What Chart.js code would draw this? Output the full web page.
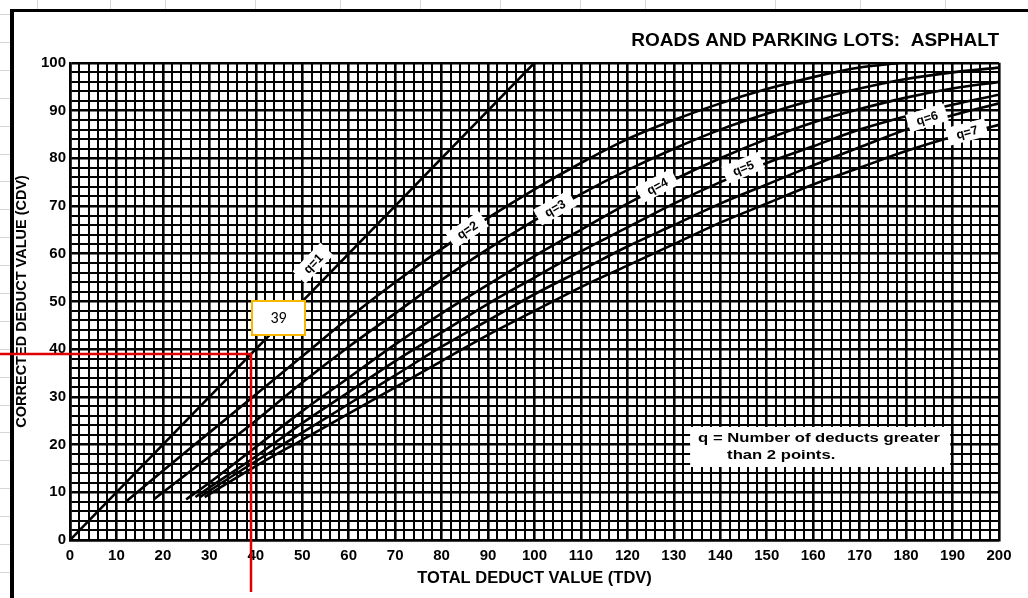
<!DOCTYPE html>
<html>
<head>
<meta charset="utf-8">
<script src="https://cdn.jsdelivr.net/npm/chart.js@4/dist/chart.umd.min.js"></script>
<style>
  html, body { margin: 0; padding: 0; background: #fff; }
  #wrap { width: 1028px; height: 598px; position: relative; }
</style>
</head>
<body>
<div id="wrap"><canvas id="canvas" width="1028" height="598"></canvas></div>
<script>
// tick labels
var xTickLabels = [0, 10, 20, 30, 40, 50, 60, 70, 80, 90, 100, 110, 120, 130, 140, 150, 160, 170, 180, 190, 200];
var yTickLabels = [0, 10, 20, 30, 40, 50, 60, 70, 80, 90, 100];

// corrected deduct value curves, one pair of arrays per q
var q1Tdv = [0, 100];
var q1Cdv = [0, 100];
var q2Tdv = [12, 20, 30, 40, 50, 60, 70, 80, 90, 100, 110, 120, 130, 140, 150, 160, 170, 179];
var q2Cdv = [8, 14.5, 22.5, 30.5, 38.5, 46.5, 54, 61, 67.5, 73.5, 79, 84, 88, 91.5, 94.5, 97, 99, 100];
var q3Tdv = [18, 30, 40, 50, 60, 70, 80, 90, 100, 110, 120, 130, 140, 150, 160, 170, 180, 190, 200];
var q3Cdv = [8.5, 17.5, 25, 33, 40.5, 47.5, 54.5, 61, 67, 72.5, 77.5, 82, 86, 89.3, 92.2, 94.6, 96.6, 98, 99];
var q4Tdv = [25, 30, 40, 50, 60, 70, 80, 90, 100, 110, 120, 130, 140, 150, 160, 170, 180, 190, 200];
var q4Cdv = [8.5, 12, 19.5, 27, 34, 41, 47.5, 53.5, 59.5, 65, 70.5, 75.5, 80, 84, 87.5, 90.3, 92.7, 94.6, 96];
var q5Tdv = [27, 30, 40, 50, 60, 70, 80, 90, 100, 110, 120, 130, 140, 150, 160, 170, 180, 190, 200];
var q5Cdv = [9, 11, 17.5, 24.5, 31, 37.5, 43.5, 49.5, 55, 60.5, 65.5, 70.5, 75, 79, 82.5, 86, 88.8, 91.2, 93.3];
var q6Tdv = [28, 30, 40, 50, 60, 70, 80, 90, 100, 110, 120, 130, 140, 150, 160, 170, 180, 190, 200];
var q6Cdv = [9, 10.3, 16.5, 22.5, 28.5, 34.5, 40.5, 46, 51.5, 56.5, 61.5, 66, 70.5, 74.5, 78.5, 82.3, 86, 89, 91.5];
var q7Tdv = [29, 30, 40, 50, 60, 70, 80, 90, 100, 110, 120, 130, 140, 150, 160, 170, 180, 190, 200];
var q7Cdv = [9, 9.6, 15.5, 21, 26.5, 32, 37.5, 43, 48, 53, 57.5, 62, 66.5, 70.5, 74.5, 78, 81.5, 84.5, 87];

// reading marked in red
var markTdv = 39;
var markCdv = 39;

var curves = [
    { q: 1, tdv: q1Tdv, cdv: q1Cdv },
    { q: 2, tdv: q2Tdv, cdv: q2Cdv },
    { q: 3, tdv: q3Tdv, cdv: q3Cdv },
    { q: 4, tdv: q4Tdv, cdv: q4Cdv },
    { q: 5, tdv: q5Tdv, cdv: q5Cdv },
    { q: 6, tdv: q6Tdv, cdv: q6Cdv },
    { q: 7, tdv: q7Tdv, cdv: q7Cdv }
];

// where the little "q=n" tags sit (data units)
var tagSpots = [
    { x: 52.3, y: 58 }, { x: 85.5, y: 65 }, { x: 104.4, y: 69.6 }, { x: 126.4, y: 74.2 },
    { x: 144.9, y: 78 }, { x: 184.5, y: 88.5 }, { x: 193.1, y: 85.5 }
];

var FONT = "'Liberation Sans', Arial, Helvetica, sans-serif";

var datasets = curves.map(function(c) {
    return {
        label: 'q=' + c.q,
        data: c.tdv.map(function(t, i) { return { x: t, y: c.cdv[i] }; }),
        showLine: true,
        borderColor: '#000',
        borderWidth: 2.6,
        pointRadius: 0,
        cubicInterpolationMode: 'monotone',
        fill: false
    };
});

function slopeAngle(chart, c, tx) {
    var xs = chart.scales.x, ys = chart.scales.y;
    var i = 0;
    while (i < c.tdv.length - 2 && c.tdv[i + 1] < tx) i++;
    var dx = xs.getPixelForValue(c.tdv[i + 1]) - xs.getPixelForValue(c.tdv[i]);
    var dy = ys.getPixelForValue(c.cdv[i + 1]) - ys.getPixelForValue(c.cdv[i]);
    return Math.atan2(dy, dx);
}

var paperPlugin = {
    id: 'paper',
    beforeDraw: function(chart) {
        var ctx = chart.ctx;
        ctx.save();
        ctx.fillStyle = '#fff';
        ctx.fillRect(0, 0, chart.width, chart.height);
        // spreadsheet cells peeking out round the pasted picture
        ctx.strokeStyle = '#d6d6d6';
        ctx.lineWidth = 1;
        for (var y = 14; y < chart.height; y += 27.9) {
            ctx.beginPath(); ctx.moveTo(0, Math.round(y) + 0.5); ctx.lineTo(10, Math.round(y) + 0.5); ctx.stroke();
        }
        [37, 110, 165, 255, 340, 420, 500, 580, 645, 775, 860, 945].forEach(function(x) {
            ctx.beginPath(); ctx.moveTo(x + 0.5, 0); ctx.lineTo(x + 0.5, 9); ctx.stroke();
        });
        ctx.fillStyle = '#000';
        ctx.fillRect(10, 9, chart.width - 10, 3);
        ctx.fillRect(10, 9, 4, chart.height - 9);
        ctx.restore();
    },
    afterDatasetsDraw: function(chart) {
        var ctx = chart.ctx, xs = chart.scales.x, ys = chart.scales.y;
        ctx.save();
        // q tags
        curves.forEach(function(c, k) {
            var s = tagSpots[k];
            var px = xs.getPixelForValue(s.x), py = ys.getPixelForValue(s.y);
            ctx.save();
            ctx.translate(px, py);
            ctx.rotate(slopeAngle(chart, c, s.x));
            ctx.fillStyle = '#fff';
            ctx.fillRect(-20, -9, 40, 18);
            ctx.fillStyle = '#000';
            ctx.font = 'bold 12.5px ' + FONT;
            ctx.textAlign = 'center';
            ctx.textBaseline = 'middle';
            ctx.fillText('q=' + c.q, 0, 1);
            ctx.restore();
        });
        // note box
        var bx0 = xs.getPixelForValue(133.5), bx1 = xs.getPixelForValue(189.5);
        var by0 = ys.getPixelForValue(23.7), by1 = ys.getPixelForValue(15.3);
        ctx.fillStyle = '#fff';
        ctx.fillRect(bx0, by0, bx1 - bx0, by1 - by0);
        ctx.fillStyle = '#000';
        ctx.font = 'bold 13px ' + FONT;
        ctx.textAlign = 'left';
        ctx.textBaseline = 'middle';
        ctx.save();
        ctx.translate(bx0 + 8, by0 + 12);
        ctx.scale(1.28, 1);
        ctx.fillText('q = Number of deducts greater', 0, 0);
        ctx.restore();
        ctx.save();
        ctx.translate(bx0 + 37, by0 + 29);
        ctx.scale(1.28, 1);
        ctx.fillText('than 2 points.', 0, 0);
        ctx.restore();
        ctx.restore();
    },
    afterDraw: function(chart) {
        var ctx = chart.ctx, xs = chart.scales.x, ys = chart.scales.y;
        var mx = Math.round(xs.getPixelForValue(markTdv)), my = Math.round(ys.getPixelForValue(markCdv));
        ctx.save();
        ctx.strokeStyle = '#e00000';
        ctx.lineWidth = 2.5;
        ctx.beginPath();
        ctx.moveTo(0, my);
        ctx.lineTo(mx, my);
        ctx.lineTo(mx, 592);
        ctx.stroke();
        // value callout
        ctx.fillStyle = '#fff';
        ctx.fillRect(mx + 1, my - 53, 53, 34);
        ctx.strokeStyle = '#f5b700';
        ctx.lineWidth = 2;
        ctx.strokeRect(mx + 1, my - 53, 53, 34);
        ctx.fillStyle = '#000';
        ctx.font = '16px ' + "Carlito, 'Liberation Sans', Arial, sans-serif";
        ctx.textAlign = 'center';
        ctx.textBaseline = 'middle';
        ctx.fillText(String(markCdv), mx + 27.5, my - 35);
        ctx.restore();
    }
};

function gridWidth(ctx) {
    return ctx.tick && ctx.tick.value % 10 === 0 ? 2.6 : 2;
}

var tickFont = { family: FONT, size: 15, weight: 'bold' };

var config = {
    type: 'scatter',
    data: { datasets: datasets },
    plugins: [paperPlugin],
    options: {
        responsive: false,
        animation: false,
        layout: { padding: { left: 0, right: 29, top: 5, bottom: 0 } },
        plugins: {
            legend: { display: false },
            tooltip: { enabled: false },
            title: {
                display: true,
                text: 'ROADS AND PARKING LOTS:  ASPHALT',
                align: 'end',
                color: '#000',
                font: { family: FONT, size: 19, weight: 'bold' },
                padding: { top: 24, bottom: 11 }
            }
        },
        scales: {
            x: {
                type: 'linear',
                min: 0,
                max: 200,
                afterFit: function(s) { s.height = 58; },
                ticks: {
                    stepSize: 2,
                    maxTicksLimit: 500,
                    autoSkip: false,
                    maxRotation: 0,
                    padding: 7,
                    color: '#000',
                    font: tickFont,
                    callback: function(v) { return xTickLabels.indexOf(v) >= 0 ? String(v) : ''; }
                },
                grid: { color: '#000', lineWidth: gridWidth, drawTicks: false },
                border: { color: '#000', width: 2.5 },
                title: {
                    display: true,
                    text: 'TOTAL DEDUCT VALUE (TDV)',
                    color: '#000',
                    font: { family: FONT, size: 16.5, weight: 'bold' },
                    padding: { top: 0, bottom: 10 }
                }
            },
            y: {
                type: 'linear',
                min: 0,
                max: 100,
                afterFit: function(s) { s.width = 70; },
                ticks: {
                    stepSize: 2,
                    maxTicksLimit: 500,
                    autoSkip: false,
                    padding: 4,
                    color: '#000',
                    font: tickFont,
                    callback: function(v) { return yTickLabels.indexOf(v) >= 0 ? String(v) : ''; }
                },
                grid: { color: '#000', lineWidth: gridWidth, drawTicks: false },
                border: { color: '#000', width: 2.5 },
                title: {
                    display: true,
                    text: 'CORRECTED DEDUCT VALUE (CDV)',
                    color: '#000',
                    font: { family: FONT, size: 14.5, weight: 'bold' },
                    padding: { top: 13, bottom: 0 }
                }
            }
        }
    }
};

window.onload = function() {
    window.myChart = new Chart(document.getElementById('canvas'), config);
};
</script>
</body>
</html>
